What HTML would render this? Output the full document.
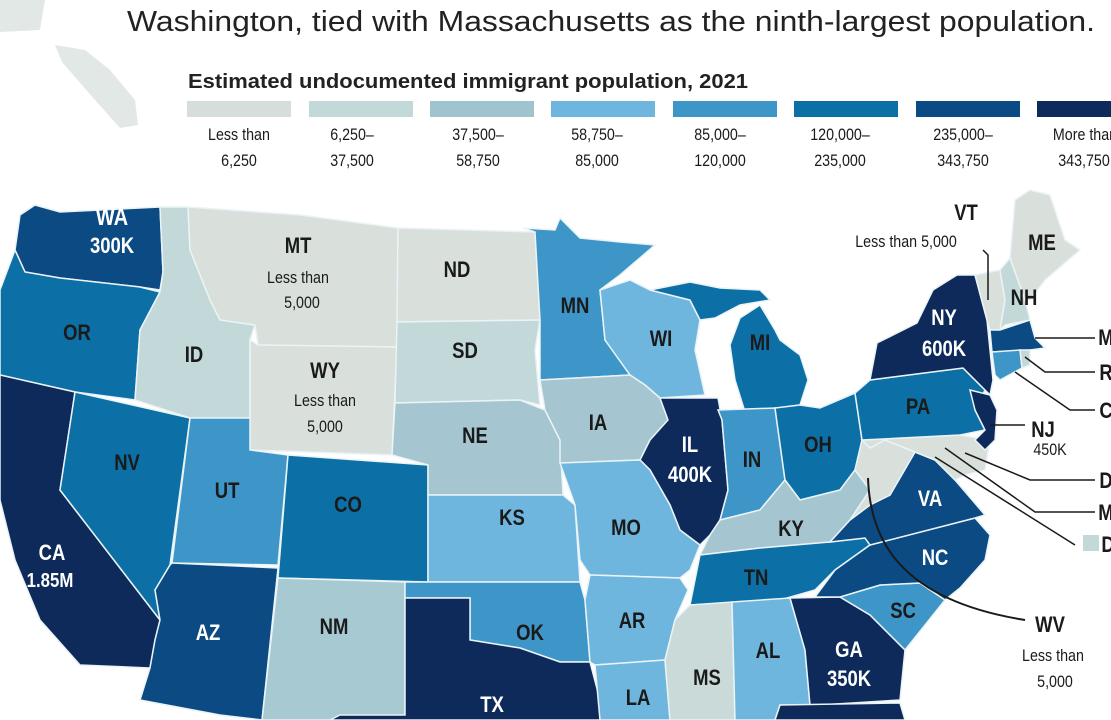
<!DOCTYPE html>
<html><head><meta charset="utf-8"><style>
html,body{margin:0;padding:0;background:#fff;width:1111px;height:720px;overflow:hidden}
svg{display:block}
.t{font-family:"Liberation Sans",sans-serif}
.b text,.s text{transform-box:fill-box;transform-origin:center;transform:scaleX(.84)}
.b{font-weight:bold;font-size:22px;text-anchor:middle;fill:#1a1a1a}
.b .w{fill:#fff}
.s{font-size:17px;text-anchor:middle;fill:#1a1a1a}
</style></head><body>
<svg width="1111" height="720" viewBox="0 0 1111 720" xmlns="http://www.w3.org/2000/svg">
<g fill="#e1e8e5">
<polygon points="0,0 45,0 40,30 0,32"/>
<polygon points="55,45 85,50 110,70 135,100 138,125 120,128 95,100 62,62"/>
</g>
<g stroke="#eaf3f6" stroke-width="1.5">
<polygon fill="#0b4a82" points="35,205 60,212 160,207 163,272 160,290 140,287 60,278 25,272 15,250 20,215"/>
<polygon fill="#0c6fa6" points="15,250 25,272 60,278 140,287 160,292 140,330 135,400 75,392 0,375 0,290"/>
<polygon fill="#0d2a5a" points="0,375 75,392 60,490 160,620 155,640 150,668 80,665 40,620 15,560 0,500"/>
<polygon fill="#0c6fa6" points="75,392 190,418 170,565 155,590 160,620 60,490"/>
<polygon fill="#c3d8d9" points="160,207 188,207 190,250 210,300 220,320 255,325 250,340 250,418 190,418 135,400 140,330 160,292 163,272"/>
<polygon fill="#d9dfdb" points="188,207 300,215 398,228 397,347 258,345 255,325 220,320 210,300 190,250"/>
<polygon fill="#d9dfdb" points="258,345 397,347 392,455 250,450 250,340"/>
<polygon fill="#3e95c8" points="190,418 250,418 250,450 288,455 278,565 172,563"/>
<polygon fill="#0c6fa6" points="288,455 428,465 428,582 278,578"/>
<polygon fill="#0b4a82" points="172,563 278,568 262,720 220,715 140,700 150,668 155,640 160,620 155,590 170,565"/>
<polygon fill="#a7c9d2" points="278,578 405,582 405,720 262,720"/>
<polygon fill="#d9dfdb" points="398,228 535,232 540,320 397,322"/>
<polygon fill="#c3d8d9" points="397,322 540,320 535,350 540,405 520,400 395,403"/>
<polygon fill="#a5c6d0" points="395,403 520,400 545,410 560,440 563,495 428,495 428,465 392,455"/>
<polygon fill="#6fb6de" points="428,495 563,495 575,505 580,582 428,582"/>
<polygon fill="#3e95c8" points="405,582 580,582 585,600 590,662 560,662 520,648 470,640 470,598 405,598"/>
<polygon fill="#0d2a5a" points="405,598 470,598 470,640 520,648 560,662 590,662 600,700 600,720 330,720 340,715 405,715"/>
<polygon fill="#3e95c8" points="523,228 555,230 560,218 580,238 620,242 655,245 620,275 600,290 605,340 630,375 540,380 540,320 535,232"/>
<polygon fill="#6fb6de" points="600,290 630,280 650,290 690,300 700,320 695,350 705,395 660,398 645,385 630,375 605,340"/>
<polygon fill="#0c6fa6" points="650,290 690,282 720,288 760,290 770,300 740,305 715,318 700,320 690,300"/>
<polygon fill="#0c6fa6" points="740,318 760,305 775,330 780,340 800,355 808,380 800,405 745,412 735,380 730,345"/>
<polygon fill="#a5c6d0" points="540,380 630,375 645,385 660,398 668,420 650,440 640,460 560,463 560,440 545,410"/>
<polygon fill="#0d2a5a" points="660,398 718,398 722,420 728,490 720,520 710,535 700,545 680,530 670,505 650,470 640,460 650,440 668,420"/>
<polygon fill="#3e95c8" points="718,410 775,408 785,480 760,510 728,518 720,520 728,490 722,420"/>
<polygon fill="#0c6fa6" points="775,408 800,405 820,408 855,393 862,440 855,470 840,490 800,500 785,480"/>
<polygon fill="#6fb6de" points="560,463 640,460 650,470 670,505 680,530 700,545 690,570 680,578 590,575 580,560 575,505"/>
<polygon fill="#a5c6d0" points="720,520 760,510 785,480 800,500 840,490 855,470 870,490 850,520 830,542 760,548 700,555 710,535"/>
<polygon fill="#0c6fa6" points="700,555 760,548 830,542 865,538 870,545 835,570 815,590 780,600 690,605 695,580"/>
<polygon fill="#6fb6de" points="590,575 680,578 688,590 675,620 665,660 595,665 590,662 585,600"/>
<polygon fill="#6fb6de" points="595,665 665,660 670,720 600,720"/>
<polygon fill="#c9dad9" points="690,605 732,602 735,720 670,720 665,660 675,620"/>
<polygon fill="#6fb6de" points="732,602 790,598 805,650 810,705 780,705 775,720 735,720"/>
<polygon fill="#0d2a5a" points="790,598 840,597 870,615 905,650 900,700 820,705 810,705 805,650"/>
<polygon fill="#0d2a5a" points="780,705 900,703 905,720 775,720"/>
<polygon fill="#3e95c8" points="840,597 880,585 920,583 945,600 905,650 870,615"/>
<polygon fill="#0b4a82" points="835,570 870,545 975,518 990,535 985,560 960,588 945,600 920,583 880,585 840,597 815,597"/>
<polygon fill="#0b4a82" points="830,542 850,520 870,505 890,495 915,452 935,460 955,480 985,515 975,518 870,545 865,538"/>
<polygon fill="#d9dfdb" points="855,470 862,440 870,448 885,440 905,448 915,452 890,495 870,505 850,520 870,490"/>
<polygon fill="#d9dfdb" points="862,440 960,435 990,440 985,470 965,475 955,480 935,460 915,452 905,448 885,440 870,448"/>
<polygon fill="#0c6fa6" points="855,393 870,380 963,368 985,390 975,410 985,430 960,435 862,440"/>
<polygon fill="#0d2a5a" points="870,380 877,343 917,323 933,290 957,275 975,275 987,320 993,380 990,395 985,390 963,368"/>
<polygon fill="#0d2a5a" points="970,390 990,395 997,410 995,440 985,450 975,440 985,430 975,410"/>
<polygon fill="#d9dfdb" points="975,275 1000,270 1005,300 1000,330 990,330 987,320"/>
<polygon fill="#c3d8d9" points="1000,270 1010,258 1025,300 1030,320 1005,325 1000,330 1005,300"/>
<polygon fill="#d9dfdb" points="1010,258 1015,200 1030,190 1050,195 1065,240 1080,250 1045,280 1030,300 1025,300"/>
<polygon fill="#0b4a82" points="990,330 1000,330 1030,320 1035,338 1045,348 1030,350 992,352"/>
<polygon fill="#3e95c8" points="992,352 1020,350 1022,368 1000,380 995,375"/>
<polygon fill="#c3d8d9" points="1020,350 1030,350 1030,365 1022,368"/>
</g>
<g fill="none" stroke="#1a1a1a" stroke-width="1.5">
<polyline points="983,250 988,255 988,300"/>
<polyline points="1035,338 1095,338"/>
<polyline points="1025,357 1045,372 1095,372"/>
<polyline points="1015,372 1070,410 1095,410"/>
<polyline points="990,425 1025,425"/>
<polyline points="965,453 1030,480 1095,480"/>
<polyline points="945,448 1035,512 1095,512"/>
<polyline points="935,457 1075,545"/>
<path d="M868,478 C870,540 900,600 1025,620" stroke-width="2"/>
</g>
<rect x="1083" y="535" width="16" height="16" fill="#c3d8d9"/>
<g class="t b"><text x="1106" y="345">M</text><text x="1106" y="380">R</text><text x="1106" y="418">C</text><text x="1106" y="488">D</text><text x="1106" y="520">M</text><text x="1108" y="552">D</text></g>
<text class="t" x="127" y="31" font-size="29" fill="#222" textLength="968" lengthAdjust="spacingAndGlyphs">Washington, tied with Massachusetts as the ninth-largest population.</text>
<text class="t" x="188" y="88" font-size="20" font-weight="bold" fill="#222" textLength="560" lengthAdjust="spacingAndGlyphs">Estimated undocumented immigrant population, 2021</text>
<g>
<rect x="187" y="101" width="104" height="16" fill="#d6dedb"/>
<rect x="309" y="101" width="104" height="16" fill="#c3d8d9"/>
<rect x="430" y="101" width="104" height="16" fill="#9fc4cf"/>
<rect x="551" y="101" width="104" height="16" fill="#6fb6de"/>
<rect x="673" y="101" width="104" height="16" fill="#3e95c8"/>
<rect x="794" y="101" width="104" height="16" fill="#0c6fa6"/>
<rect x="916" y="101" width="104" height="16" fill="#0b4a82"/>
<rect x="1037" y="101" width="80" height="16" fill="#0d2a5a"/>
</g>
<g class="t s">
<text x="239" y="140">Less than</text><text x="239" y="166">6,250</text>
<text x="352" y="140">6,250–</text><text x="352" y="166">37,500</text>
<text x="478" y="140">37,500–</text><text x="478" y="166">58,750</text>
<text x="597" y="140">58,750–</text><text x="597" y="166">85,000</text>
<text x="720" y="140">85,000–</text><text x="720" y="166">120,000</text>
<text x="840" y="140">120,000–</text><text x="840" y="166">235,000</text>
<text x="963" y="140">235,000–</text><text x="963" y="166">343,750</text>
<text x="1085" y="140">More than</text><text x="1084" y="166">343,750</text>
</g>
<g class="t b">
<text class="w" x="112" y="225" font-size="24">WA</text><text class="w" x="112" y="253" font-size="22">300K</text>
<text x="298" y="253">MT</text>
<text x="457" y="277">ND</text>
<text x="77" y="340">OR</text>
<text x="194" y="362">ID</text>
<text x="465" y="358">SD</text>
<text x="325" y="378">WY</text>
<text x="475" y="443">NE</text>
<text x="127" y="470">NV</text>
<text x="227" y="498">UT</text>
<text x="348" y="512">CO</text>
<text x="512" y="525">KS</text>
<text class="w" x="52" y="560">CA</text><text class="w" x="50" y="587" font-size="20">1.85M</text>
<text class="w" x="208" y="640">AZ</text>
<text x="334" y="634">NM</text>
<text x="530" y="640">OK</text>
<text class="w" x="492" y="712">TX</text>
<text x="575" y="313">MN</text>
<text x="661" y="346">WI</text>
<text x="760" y="350">MI</text>
<text x="598" y="430">IA</text>
<text class="w" x="690" y="452">IL</text><text class="w" x="690" y="482">400K</text>
<text x="752" y="467">IN</text>
<text x="818" y="452">OH</text>
<text x="626" y="535">MO</text>
<text x="791" y="536">KY</text>
<text class="w" x="930" y="506">VA</text>
<text x="756" y="585">TN</text>
<text class="w" x="935" y="565">NC</text>
<text x="632" y="628">AR</text>
<text x="903" y="618">SC</text>
<text x="768" y="658">AL</text>
<text class="w" x="849" y="657">GA</text><text class="w" x="849" y="686">350K</text>
<text x="707" y="685">MS</text>
<text x="638" y="705">LA</text>
<text x="966" y="220">VT</text>
<text x="1042" y="250">ME</text>
<text x="1024" y="305">NH</text>
<text class="w" x="944" y="325">NY</text><text class="w" x="944" y="356">600K</text>
<text x="918" y="414">PA</text>
<text x="1043" y="437">NJ</text>
<text x="1050" y="632">WV</text>
</g>
<g class="t s">
<text x="298" y="283">Less than</text><text x="302" y="308">5,000</text>
<text x="325" y="406">Less than</text><text x="325" y="432">5,000</text>
<text x="906" y="247">Less than 5,000</text>
<text x="1050" y="455">450K</text>
<text x="1053" y="661">Less than</text>
<text x="1055" y="687">5,000</text>
</g>
</svg>
</body></html>
